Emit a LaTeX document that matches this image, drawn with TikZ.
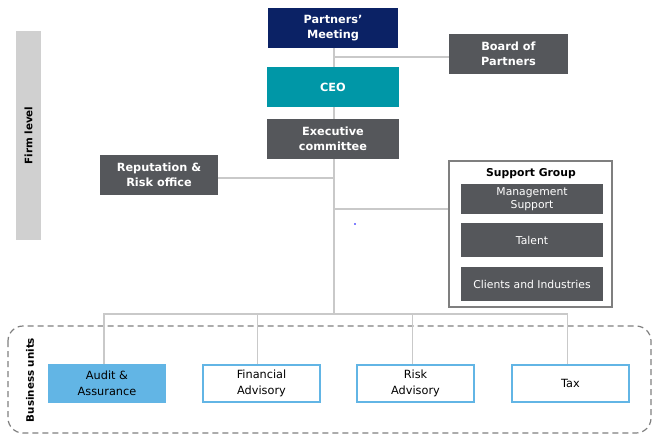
\documentclass[tikz,border=0pt]{standalone}
\usepackage{fontspec}
\setmainfont{DejaVu Sans}
\usepackage{tikz}
\usetikzlibrary{positioning,calc}

\definecolor{navy}{HTML}{0B2265}
\definecolor{teal}{HTML}{0097A7}
\definecolor{slate}{HTML}{55575B}
\definecolor{skyblue}{HTML}{62B5E5}
\definecolor{linegray}{HTML}{C9C9C9}
\definecolor{bargray}{HTML}{D0D0D0}
\definecolor{framegray}{HTML}{7F7F7F}

\tikzset{
  box/.style={minimum width=119pt, minimum height=40pt, inner sep=1pt, align=center, text=white, font=\fontsize{11.3}{15}\selectfont\bfseries},
  darkbox/.style={box, fill=slate},
  subbox/.style={minimum width=142pt, align=center, text=white, fill=slate, inner sep=1pt, font=\fontsize{10.8}{12.7}\selectfont},
  unitbox/.style={minimum width=117pt, minimum height=37pt, inner sep=1pt, align=center, draw=skyblue, line width=1.5pt, font=\fontsize{11.3}{15.5}\selectfont},
  sidelbl/.style={rotate=90, font=\fontsize{10.3}{12}\selectfont\bfseries},
  conn/.style={draw=linegray, line width=1.2pt},
}

\begin{document}
\begin{tikzpicture}[x=1pt, y=-1pt]
  \useasboundingbox (0,0) rectangle (652,434);

  % side labels
  \node[fill=bargray, minimum width=25pt, minimum height=209pt, inner sep=0] (firmbar) at (28.5,135.5) {};
  \node[sidelbl] (firmlbl) at (firmbar.center) {Firm level};
  \draw[framegray, line width=1.2pt, dash pattern=on 6pt off 4pt, rounded corners=15pt] (8,326) rectangle (651,433);
  \node[sidelbl] (buslbl) at (30,380) {Business units};

  % firm level
  \node[box, fill=navy, minimum width=130pt] (pm) at (333,28) {Partners'\\Meeting};
  \node[box, fill=teal, minimum width=132pt] (ceo) at (333,87) {CEO};
  \node[darkbox, minimum width=132pt] (exec) at (333,139) {Executive\\committee};
  \node[darkbox] (board) at (508.5,54) {Board of\\Partners};
  \node[darkbox, minimum width=118pt] (rep) at (159,175) {Reputation \&\\Risk office};

  % support group
  \node[draw=framegray, line width=1.5pt, minimum width=163pt, minimum height=146pt] (sg) at (530.5,234) {};
  \node[font=\fontsize{10.8}{12}\selectfont\bfseries] (sgtitle) at (531,174) {Support Group};
  \node[subbox, minimum height=30pt] (mgmt) at (532,199) {Management\\Support};
  \node[subbox, minimum height=34pt] (talent) at (532,240) {Talent};
  \node[subbox, minimum height=34pt] (clients) at (532,284) {Clients and Industries};

  % business units
  \node[unitbox, fill=skyblue, draw=skyblue] (audit) at (107,383.5) {Audit \&\\Assurance};
  \node[unitbox] (fin) at (261.5,383.5) {Financial\\Advisory};
  \node[unitbox] (risk) at (415.5,383.5) {Risk\\Advisory};
  \node[unitbox] (tax) at (570.5,383.5) {Tax};

  % connectors
  \coordinate (tboard) at (334,57);
  \coordinate (trep) at (334,178);
  \coordinate (tsg) at (334,209);
  \coordinate (tbus) at (334,314);
  \draw[conn] (pm.south -| tbus) -- (ceo.north -| tbus);
  \draw[conn] (ceo.south -| tbus) -- (exec.north -| tbus);
  \draw[conn] (exec.south -| tbus) -- (tbus);
  \draw[conn] (tboard) -- (tboard -| board.west);
  \draw[conn] (trep) -- (trep -| rep.east);
  \draw[conn] (tsg) -- (tsg -| sg.west);
  \draw[conn] ([xshift=-3pt]audit.north) |- (tbus) -| ([xshift=-3pt]tax.north);
  \draw[conn] ([xshift=-4pt]fin.north) -- ([xshift=-4pt]fin.north |- tbus);
  \draw[conn] ([xshift=-3pt]risk.north) -- ([xshift=-3pt]risk.north |- tbus);

  \fill[blue] (355,224) circle (0.8pt);
\end{tikzpicture}
\end{document}
